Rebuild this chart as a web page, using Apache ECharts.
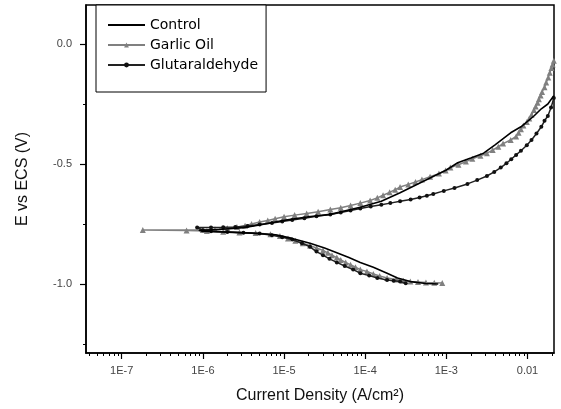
<!DOCTYPE html>
<html>
<head>
<meta charset="utf-8">
<script src="https://cdn.jsdelivr.net/npm/echarts@6/dist/echarts.min.js"></script>
<style>html,body{margin:0;padding:0;background:#fff}#c{width:561px;height:409px}</style>
</head>
<body>
<div id="c"></div>
<script>
// Control: current density (A/cm2) and potential (V)
const controlCurrent = [7.94e-4,5.6e-4,3.6e-4,2.5e-4,1.86e-4,1.26e-4,8.7e-5,6.3e-5,4.47e-5,3.16e-5,2.09e-5,1.26e-5,7.9e-6,3.98e-6,2.0e-6,1.0e-6,8.9e-7,
  1.58e-6,3.16e-6,5.0e-6,1.0e-5,2.0e-5,3.72e-5,8.7e-5,1.58e-4,2.69e-4,5.0e-4,1.0e-3,1.38e-3,2.0e-3,2.88e-3,3.98e-3,6.2e-3,8.3e-3,1.2e-2,1.48e-2,1.78e-2,2.11e-2];
const controlPotential = [-1.0,-0.998,-0.99,-0.975,-0.955,-0.93,-0.91,-0.89,-0.87,-0.85,-0.83,-0.81,-0.795,-0.788,-0.784,-0.78,-0.776,
  -0.773,-0.765,-0.754,-0.735,-0.72,-0.71,-0.68,-0.655,-0.62,-0.575,-0.525,-0.495,-0.475,-0.455,-0.42,-0.37,-0.345,-0.30,-0.27,-0.25,-0.215];

// Garlic Oil
const garlicCurrent = [8.9e-4,7.1e-4,5.6e-4,4.47e-4,3.6e-4,2.95e-4,2.4e-4,1.86e-4,1.51e-4,1.26e-4,1.05e-4,8.7e-5,7.6e-5,6.6e-5,5.75e-5,5.0e-5,4.47e-5,3.9e-5,3.47e-5,3.02e-5,2.51e-5,2.09e-5,1.7e-5,1.38e-5,1.12e-5,8.9e-6,6.8e-6,4.47e-6,2.82e-6,1.78e-6,1.12e-6,6.3e-7,1.82e-7,
  1.0e-6,1.41e-6,2.0e-6,2.63e-6,3.31e-6,3.98e-6,5.0e-6,6.3e-6,7.76e-6,1.0e-5,1.35e-5,1.9e-5,2.63e-5,3.72e-5,5.0e-5,6.6e-5,8.7e-5,1.15e-4,1.41e-4,1.66e-4,2.0e-4,2.34e-4,2.69e-4,3.39e-4,4.17e-4,5.0e-4,6.3e-4,8.1e-4,9.8e-4,
  1.12e-3,1.41e-3,1.74e-3,2.09e-3,2.63e-3,3.16e-3,3.72e-3,4.37e-3,5.0e-3,6.2e-3,7.24e-3,7.76e-3,8.3e-3,8.9e-3,9.8e-3,1.05e-2,1.12e-2,1.2e-2,1.26e-2,1.33e-2,1.38e-2,1.45e-2,1.51e-2,1.62e-2,1.7e-2,1.8e-2,1.88e-2,1.97e-2,2.04e-2,2.11e-2];
const garlicPotential = [-0.996,-0.995,-0.994,-0.992,-0.99,-0.986,-0.981,-0.975,-0.967,-0.958,-0.948,-0.94,-0.93,-0.92,-0.91,-0.90,-0.89,-0.88,-0.87,-0.86,-0.85,-0.84,-0.83,-0.82,-0.81,-0.80,-0.793,-0.788,-0.785,-0.782,-0.779,-0.777,-0.775,
  -0.775,-0.772,-0.768,-0.763,-0.757,-0.75,-0.742,-0.735,-0.728,-0.72,-0.713,-0.706,-0.699,-0.69,-0.682,-0.673,-0.663,-0.652,-0.641,-0.63,-0.618,-0.607,-0.596,-0.585,-0.575,-0.565,-0.553,-0.54,-0.527,
  -0.515,-0.503,-0.49,-0.478,-0.466,-0.455,-0.442,-0.428,-0.415,-0.40,-0.385,-0.37,-0.355,-0.34,-0.325,-0.31,-0.295,-0.275,-0.26,-0.245,-0.23,-0.215,-0.20,-0.18,-0.16,-0.14,-0.12,-0.10,-0.085,-0.07];

// Glutaraldehyde
const glutCurrent = [3.16e-4,2.69e-4,2.24e-4,1.86e-4,1.41e-4,1.12e-4,8.7e-5,7.1e-5,5.6e-5,4.47e-5,3.63e-5,3.02e-5,2.51e-5,2.09e-5,1.66e-5,1.26e-5,9.5e-6,7.1e-6,5.0e-6,3.16e-6,2.0e-6,1.26e-6,1.0e-6,8.5e-7,
  1.26e-6,1.78e-6,2.51e-6,3.55e-6,5.0e-6,7.1e-6,9.5e-6,1.26e-5,1.78e-5,2.51e-5,3.72e-5,5.0e-5,6.6e-5,8.7e-5,1.17e-4,1.58e-4,2.04e-4,2.69e-4,3.63e-4,4.68e-4,5.75e-4,6.9e-4,9.3e-4,
  1.26e-3,1.82e-3,2.4e-3,3.16e-3,3.89e-3,4.68e-3,5.5e-3,6.3e-3,7.24e-3,8.3e-3,9.8e-3,1.12e-2,1.29e-2,1.48e-2,1.62e-2,1.78e-2,1.95e-2,2.11e-2];
const glutPotential = [-0.997,-0.99,-0.986,-0.983,-0.975,-0.965,-0.955,-0.94,-0.925,-0.91,-0.895,-0.88,-0.865,-0.845,-0.83,-0.815,-0.805,-0.797,-0.79,-0.786,-0.783,-0.78,-0.776,-0.765,
  -0.765,-0.764,-0.762,-0.758,-0.752,-0.746,-0.74,-0.733,-0.726,-0.718,-0.71,-0.702,-0.694,-0.685,-0.677,-0.67,-0.663,-0.655,-0.648,-0.64,-0.632,-0.625,-0.612,
  -0.6,-0.583,-0.567,-0.55,-0.533,-0.515,-0.497,-0.48,-0.462,-0.445,-0.422,-0.4,-0.373,-0.345,-0.32,-0.3,-0.265,-0.225];

const seriesNames = ['Control', 'Garlic Oil', 'Glutaraldehyde'];
const xTickValues = [1e-7, 1e-6, 1e-5, 1e-4, 1e-3, 1e-2];
const xTickLabels = ['1E-7', '1E-6', '1E-5', '1E-4', '1E-3', '0.01'];
const yTickValues = [0, -0.5, -1.0];
const yTickLabels = ['0.0', '-0.5', '-1.0'];
const yMinorTicks = [-0.25, -0.75, -1.25];

const xMinorTicks = [];
for (let e = -8; e <= -2; e++) {
  for (let m = 2; m <= 9; m++) {
    const v = m * Math.pow(10, e);
    if (v > 3.7e-8 && v < 0.021) xMinorTicks.push(v);
  }
}

const zip = (a, b) => a.map((v, i) => [v, b[i]]);
const font = 'Liberation Sans, Arial, sans-serif';
const X_MIN = 3.63e-8, X_MAX = 0.0212, Y_MIN = -1.2875, Y_MAX = 0.1625;

const chart = echarts.init(document.getElementById('c'), null, {renderer: 'canvas'});
chart.setOption({
  animation: false,
  backgroundColor: '#fff',
  grid: {left: 86, right: 7, top: 5, bottom: 56, show: true, borderColor: '#000', borderWidth: 1.5, backgroundColor: 'transparent'},
  legend: {
    data: [
      {name: seriesNames[0], itemStyle: {color: 'rgba(0,0,0,0)', borderWidth: 0}},
      {name: seriesNames[1]},
      {name: seriesNames[2]}
    ],
    orient: 'vertical',
    left: 96, top: 5,
    itemWidth: 37, itemHeight: 6, itemGap: 6,
    padding: [13, 8, 20, 11],
    borderColor: '#000', borderWidth: 1, backgroundColor: '#fff',
    textStyle: {fontFamily: 'DejaVu Sans', fontSize: 14, color: '#000'}
  },
  xAxis: [{
    type: 'log', logBase: 10, min: X_MIN, max: X_MAX,
    name: 'Current Density (A/cm²)', nameLocation: 'middle', nameGap: 35,
    nameTextStyle: {fontFamily: font, fontSize: 16, color: '#111'},
    axisLine: {show: true, onZero: false, lineStyle: {color: '#000', width: 1.5}},
    axisTick: {show: true, customValues: xTickValues, length: 6, lineStyle: {color: '#000', width: 1.2}},
    axisLabel: {show: true, customValues: xTickValues, margin: 12, fontFamily: font, fontSize: 11, color: '#444',
      formatter: v => xTickLabels[xTickValues.findIndex(t => Math.abs(Math.log10(t) - Math.log10(v)) < 1e-6)] || ''},
    splitLine: {show: false}
  }, {
    type: 'log', logBase: 10, min: X_MIN, max: X_MAX, position: 'bottom',
    axisLine: {show: false, onZero: false},
    axisTick: {show: true, customValues: xMinorTicks, length: 3, lineStyle: {color: '#000', width: 1}},
    axisLabel: {show: false}, splitLine: {show: false}
  }],
  yAxis: [{
    type: 'value', min: Y_MIN, max: Y_MAX,
    name: 'E vs ECS (V)', nameLocation: 'middle', nameGap: 55,
    nameTextStyle: {fontFamily: font, fontSize: 16, color: '#111'},
    axisLine: {show: true, onZero: false, lineStyle: {color: '#000', width: 1.5}},
    axisTick: {show: true, customValues: yTickValues, length: 6, lineStyle: {color: '#000', width: 1.2}},
    axisLabel: {show: true, customValues: yTickValues, margin: 14, fontFamily: font, fontSize: 11, color: '#444',
      formatter: v => yTickLabels[yTickValues.findIndex(t => Math.abs(t - v) < 1e-6)] || ''},
    splitLine: {show: false}
  }, {
    type: 'value', min: Y_MIN, max: Y_MAX, position: 'left',
    axisLine: {show: false, onZero: false},
    axisTick: {show: true, customValues: yMinorTicks, length: 3, lineStyle: {color: '#000', width: 1}},
    axisLabel: {show: false}, splitLine: {show: false}
  }],
  series: [{
    name: seriesNames[0], type: 'line', z: 4,
    data: zip(controlCurrent, controlPotential),
    showSymbol: false, symbol: 'none',
    lineStyle: {color: '#000', width: 1.6},
    itemStyle: {color: '#000'}
  }, {
    name: seriesNames[1], type: 'line', z: 2,
    data: zip(garlicCurrent, garlicPotential),
    symbol: 'triangle', symbolSize: 6, showAllSymbol: true,
    lineStyle: {color: '#808080', width: 1.5},
    itemStyle: {color: '#808080'}
  }, {
    name: seriesNames[2], type: 'line', z: 3,
    data: zip(glutCurrent, glutPotential),
    symbol: 'circle', symbolSize: 4, showAllSymbol: true,
    lineStyle: {color: '#222', width: 1.5},
    itemStyle: {color: '#111'}
  }]
});
</script>
</body>
</html>
